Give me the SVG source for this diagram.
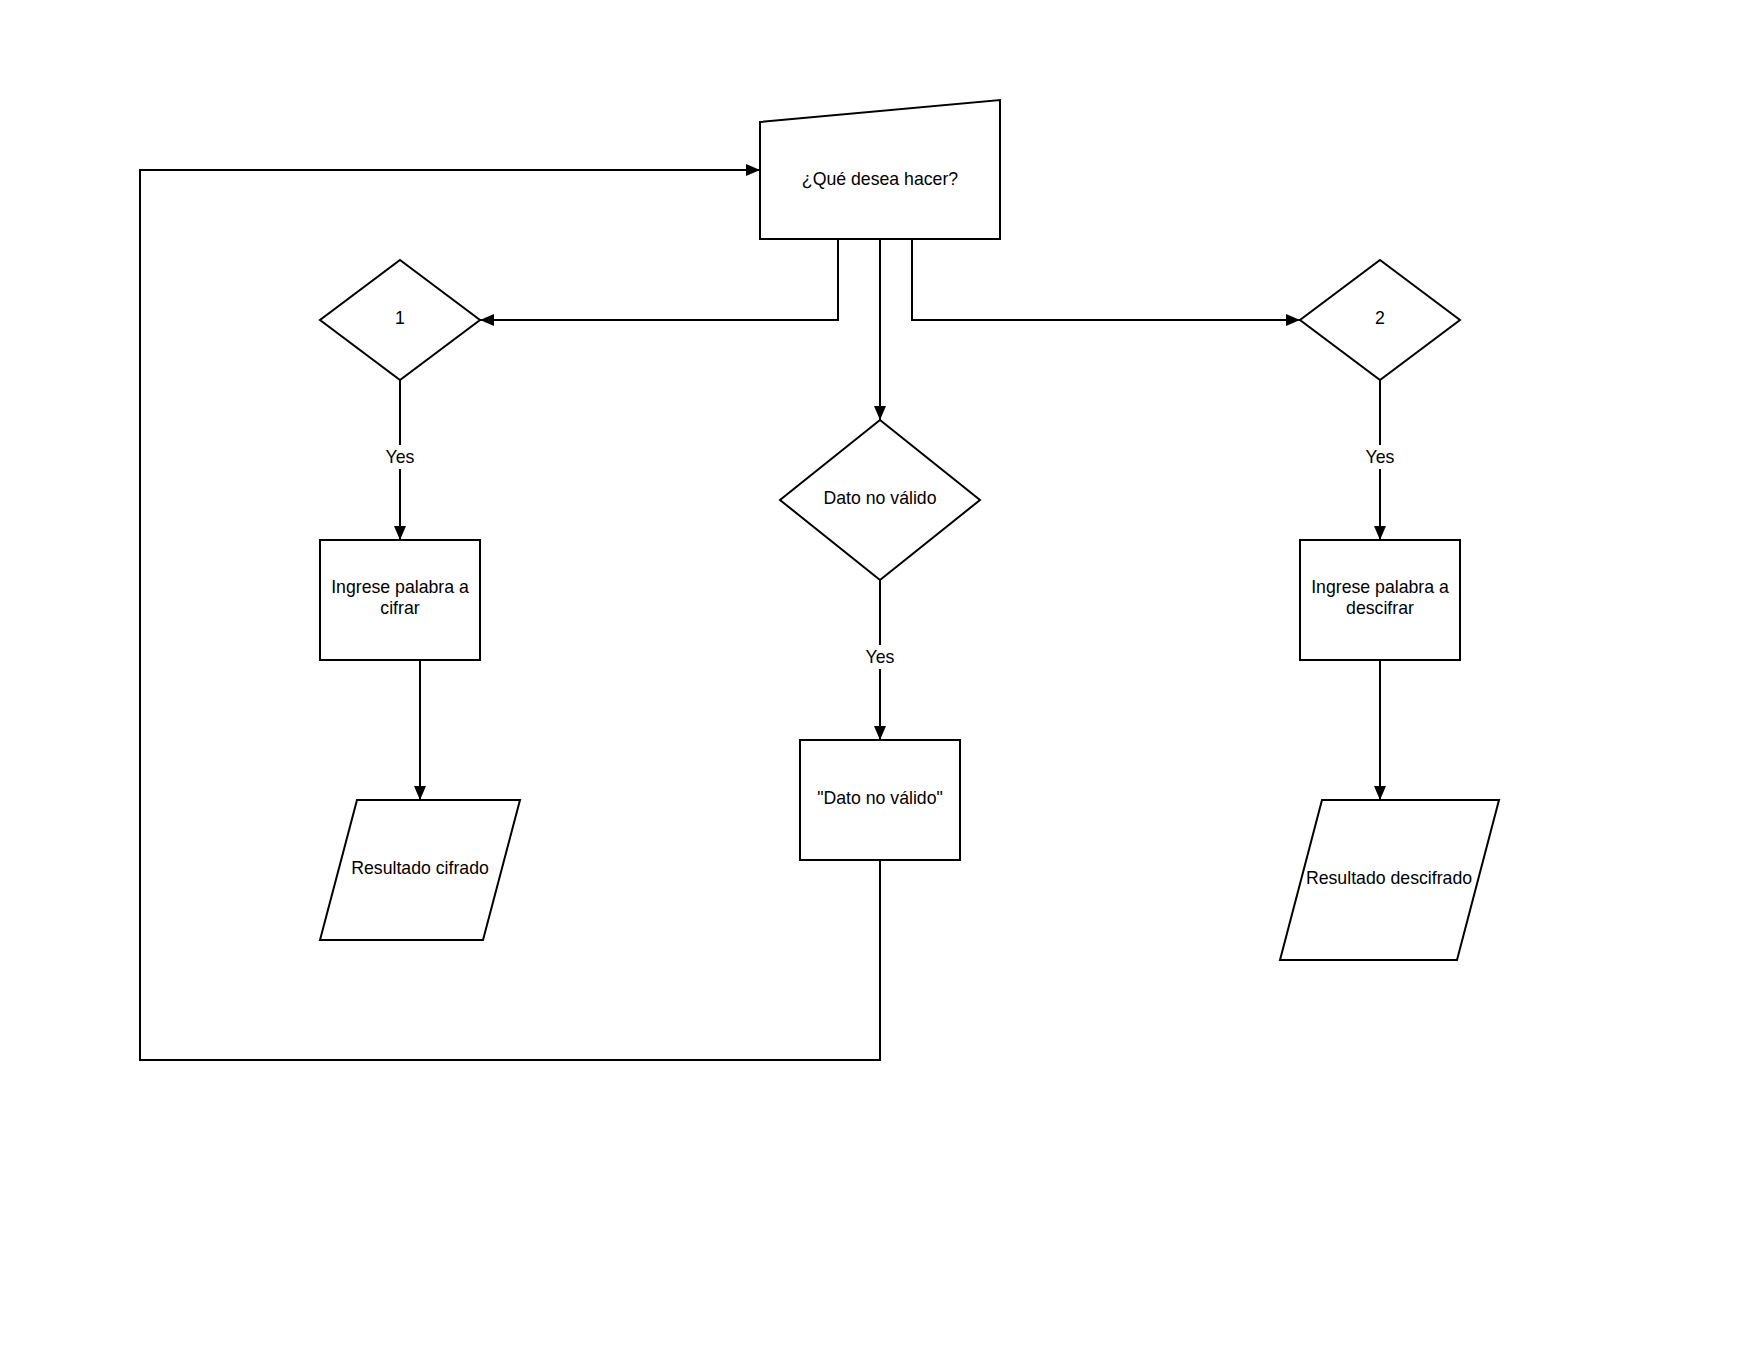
<svg xmlns="http://www.w3.org/2000/svg" width="1760" height="1360" viewBox="0 0 1760 1360">
<style>
.shape{fill:#ffffff;stroke:#000000;stroke-width:2}
.conn{fill:none;stroke:#000000;stroke-width:2}
text{font-family:"Liberation Sans",Arial,sans-serif;font-size:17.7px;fill:#000000;text-anchor:middle}
.lbl{font-size:17.7px}
.lblbg{fill:#ffffff;stroke:none}
</style>
<defs>
<marker id="arr" markerWidth="16" markerHeight="14" refX="14" refY="6" orient="auto" markerUnits="userSpaceOnUse">
<path d="M0,0 L14,6 L0,12 Z" fill="#000000"/>
</marker>
</defs>
<rect width="1760" height="1360" fill="#ffffff"/>
<g id="connectors">
<path class="conn" d="M838,239 L838,320 L480,320" marker-end="url(#arr)"/>
<path class="conn" d="M880,239 L880,420" marker-end="url(#arr)"/>
<path class="conn" d="M912,239 L912,320 L1300,320" marker-end="url(#arr)"/>
<path class="conn" d="M400,380 L400,540" marker-end="url(#arr)"/>
<path class="conn" d="M1380,380 L1380,540" marker-end="url(#arr)"/>
<path class="conn" d="M880,580 L880,740" marker-end="url(#arr)"/>
<path class="conn" d="M420,660 L420,800" marker-end="url(#arr)"/>
<path class="conn" d="M1380,660 L1380,800" marker-end="url(#arr)"/>
<path class="conn" d="M880,860 L880,1060 L140,1060 L140,170 L760,170" marker-end="url(#arr)"/>
<rect class="lblbg" x="382" y="445" width="36" height="24"/>
<text class="lbl" x="400" y="463">Yes</text>
<rect class="lblbg" x="1362" y="445" width="36" height="24"/>
<text class="lbl" x="1380" y="463">Yes</text>
<rect class="lblbg" x="862" y="645" width="36" height="24"/>
<text class="lbl" x="880" y="663">Yes</text>
</g>
<g id="node-question">
<path class="shape" d="M760,122 L1000,100 L1000,239 L760,239 Z"/>
<text x="880" y="185">¿Qué desea hacer?</text>
</g>
<g id="node-option1">
<path class="shape" d="M400,260 L480,320 L400,380 L320,320 Z"/>
<text x="400" y="324">1</text>
</g>
<g id="node-option2">
<path class="shape" d="M1380,260 L1460,320 L1380,380 L1300,320 Z"/>
<text x="1380" y="324">2</text>
</g>
<g id="node-invalid-check">
<path class="shape" d="M880,420 L980,500 L880,580 L780,500 Z"/>
<text x="880" y="504">Dato no válido</text>
</g>
<g id="node-input-cipher">
<rect class="shape" x="320" y="540" width="160" height="120"/>
<text x="400" y="593">Ingrese palabra a</text>
<text x="400" y="614">cifrar</text>
</g>
<g id="node-input-decipher">
<rect class="shape" x="1300" y="540" width="160" height="120"/>
<text x="1380" y="593">Ingrese palabra a</text>
<text x="1380" y="614">descifrar</text>
</g>
<g id="node-invalid-msg">
<rect class="shape" x="800" y="740" width="160" height="120"/>
<text x="880" y="804">"Dato no válido"</text>
</g>
<g id="node-result-cipher">
<path class="shape" d="M357,800 L520,800 L483,940 L320,940 Z"/>
<text x="420" y="874">Resultado cifrado</text>
</g>
<g id="node-result-decipher">
<path class="shape" d="M1322,800 L1499,800 L1457,960 L1280,960 Z"/>
<text x="1389" y="884">Resultado descifrado</text>
</g>
</svg>
